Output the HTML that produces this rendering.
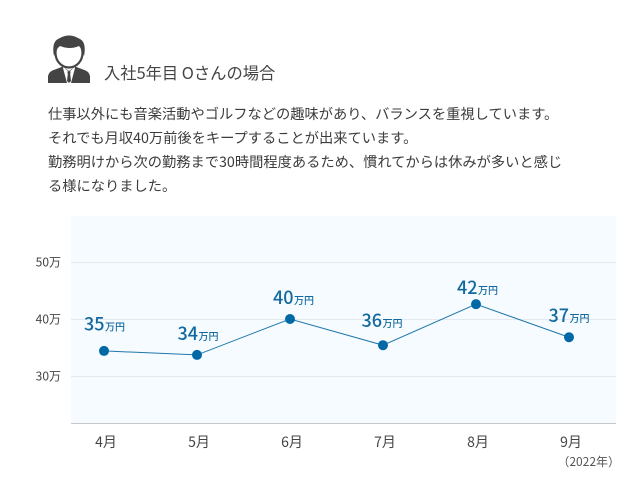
<!DOCTYPE html>
<html lang="ja">
<head>
<meta charset="utf-8">
<style>
html,body{margin:0;padding:0;background:#fff}
body{width:641px;height:489px;position:relative;overflow:hidden;font-family:"Noto Sans CJK JP","Liberation Sans",sans-serif;color:#3c3c3c}
#title{position:absolute;left:104px;top:61px;font-size:16.3px;line-height:22px;white-space:nowrap;font-weight:400;color:#444}
.line{position:absolute;left:48px;font-size:14.26px;line-height:24px;white-space:nowrap;color:#3c3c3c}
svg{position:absolute;left:0;top:0}
</style>
</head>
<body>
<svg width="641" height="489" style="z-index:1">
  <g>
    <path d="M48 83 L48 76 Q49 71 55 69.5 L63 66.5 L69 71 L75 66.5 L83 69.5 Q89 71 90 76 L90 83 Z" fill="#444"/>
    <path d="M63 66.5 L69 72 L75 66.5 L75 68 L71 83 L67 83 L63 68 Z" fill="#fff"/>
    <path d="M67.3 71.5 L70.7 71.5 L70.2 74 L71 81 L69 83 L67 81 L67.8 74 Z" fill="#444"/>
    <ellipse cx="69" cy="53" rx="13.5" ry="14.5" fill="#fff" stroke="#444" stroke-width="2.2"/>
    <path d="M54 56 Q51 41 60 38 Q69 33 78 38 Q87 41 84 56 Q82 49 79 46 Q70 50 60 46 Q56 49 54 56 Z" fill="#444"/>
  </g>
</svg>
<div id="title">入社5年目 Oさんの場合</div>
<div class="line" style="top:102px">仕事以外にも音楽活動やゴルフなどの趣味があり、バランスを重視しています。</div>
<div class="line" style="top:126px">それでも月収40万前後をキープすることが出来ています。</div>
<div class="line" style="top:150px">勤務明けから次の勤務まで30時間程度あるため、慣れてからは休みが多いと感じ</div>
<div class="line" style="top:174px">る様になりました。</div>
<svg id="chart" width="641" height="489"></svg>
<script>
const months = ['4月', '5月', '6月', '7月', '8月', '9月'];
const values = [34.4, 33.7, 40, 35.4, 42.6, 36.8];
const valueLabels = ['35', '34', '40', '36', '42', '37'];
const yTicks = [30, 40, 50];
const yTickLabels = ['30万', '40万', '50万'];
const unitLabel = '万円';
const yearNote = '（2022年）';

const NS = 'http://www.w3.org/2000/svg';
const svg = document.getElementById('chart');
const FONT = '"Noto Sans CJK JP","Liberation Sans",sans-serif';
const xScale = i => 104 + i * 93;
const yScale = v => 376 - (v - 30) * 5.7;
// Hand-placed annotation nudges relative to each point (layout, not data).
const labelNudgeX = [-20, -19.5, -17, -21.5, -19, -20.5];
const labelNudgeY = [-20.3, -15, -15, -18.3, -10, -15.3];

function make(tag, attrs, parent) {
  const el = document.createElementNS(NS, tag);
  for (const k in attrs) el.setAttribute(k, attrs[k]);
  (parent || svg).appendChild(el);
  return el;
}

const plotBg = make('rect', {x: 71, y: 216, width: 545, height: 207, fill: '#f6fbff'});



yTicks.forEach((t, i) => {
  const gy = Math.round(yScale(t)) + 0.5;
  const grid = make('line', {x1: 71, x2: 616, y1: gy, y2: gy, stroke: '#e3e9ee', 'stroke-width': 1});
  
  
  const label = make('text', {x: 61, y: yScale(t) + 4.5, 'text-anchor': 'end', 'font-size': 12, fill: '#444', 'font-family': FONT});
  label.textContent = yTickLabels[i];
  
  
});

const axis = make('line', {x1: 71, x2: 616, y1: 423.5, y2: 423.5, stroke: '#c8c8c8', 'stroke-width': 1});



const series = make('polyline', {
  points: values.map((v, i) => xScale(i) + ',' + yScale(v)).join(' '),
  fill: 'none', stroke: '#1f77a8', 'stroke-width': 1
});



values.forEach((v, i) => {
  const x = xScale(i), y = yScale(v);
  const pt = make('circle', {cx: x, cy: y, r: 5, fill: '#0069a5'});
  
  

  const lab = make('text', {x: x + labelNudgeX[i], y: y + labelNudgeY[i], fill: '#11699f', 'font-family': FONT, 'font-size': 18, 'font-weight': 500});
  
  
  lab.textContent = valueLabels[i];
  const unit = make('tspan', {'font-size': 10, dx: 0.5}, lab);
  unit.textContent = unitLabel;

  const tick = make('text', {x: x + 2, y: 447, 'text-anchor': 'middle', 'font-size': 14, fill: '#444', 'font-family': FONT});
  tick.textContent = months[i];
  
  
});

const note = make('text', {x: 620, y: 466, 'text-anchor': 'end', 'font-size': 12, fill: '#555', 'font-family': FONT});
note.textContent = yearNote;


</script>
</body>
</html>
